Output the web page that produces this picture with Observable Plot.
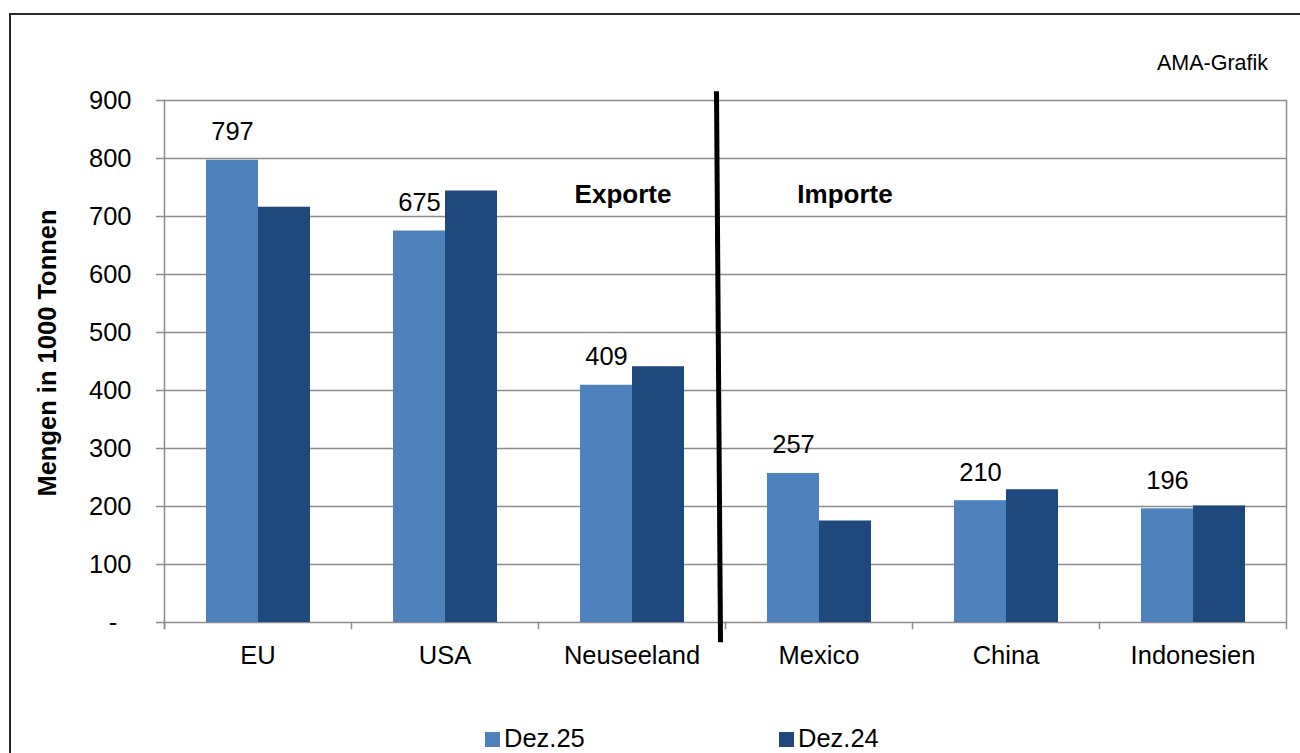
<!DOCTYPE html>
<html><head><meta charset="utf-8">
<script src="https://cdn.jsdelivr.net/npm/d3@7"></script>
<script src="https://cdn.jsdelivr.net/npm/@observablehq/plot@0.6"></script>
<style>
body{margin:0;background:#fff;}
#wrap{position:relative;width:1300px;height:753px;overflow:hidden;font-family:"Liberation Sans",Arial,sans-serif;color:#000;background:#fff;}
#border{position:absolute;left:9px;top:13px;width:1400px;height:800px;border-left:2px solid #2a2a2a;border-top:2px solid #2a2a2a;}
#chart{position:absolute;left:0;top:0;}
#credit{position:absolute;right:32px;top:52.8px;font-size:21.5px;line-height:1;white-space:nowrap;}
#ylabel{position:absolute;left:48px;top:353px;transform:translate(-50%,-50%) rotate(-90deg);font-size:25.5px;font-weight:bold;white-space:nowrap;line-height:1;}
.leg{position:absolute;top:726.4px;font-size:25.5px;line-height:1;white-space:nowrap;}
.sw{position:absolute;top:732px;width:15px;height:15px;}
</style></head><body>
<div id="wrap">
  <div id="border"></div>
  <div id="chart"></div>
  <div id="credit">AMA-Grafik</div>
  <div id="ylabel">Mengen in 1000 Tonnen</div>
</div>
<script>
// ---- data ----
const categories = ["EU", "USA", "Neuseeland", "Mexico", "China", "Indonesien"];
const seriesNames = ["Dez.25", "Dez.24"];
const valuesDez25 = [797, 675, 409, 257, 210, 196];
const valuesDez24 = [716, 744, 441, 175, 229, 201];
const yTicks = [0, 100, 200, 300, 400, 500, 600, 700, 800, 900];
const groupLabels = ["Exporte", "Importe"];
const seriesColors = ["#4F81BD", "#1F497D"];

const rows = [];
categories.forEach((c, i) => {
  rows.push({cat: c, series: seriesNames[0], value: valuesDez25[i]});
  rows.push({cat: c, series: seriesNames[1], value: valuesDez24[i]});
});
const labelRows = rows.filter(d => d.series === seriesNames[0]);

const gray = "#8c8c8c";
const FS = 25.5;
const H = 700, MT = 100, MB = 78;
const plotH = H - MT - MB;

const plot = Plot.plot({
  width: 1300,
  height: H,
  marginLeft: 162,
  marginRight: 13,
  marginTop: MT,
  marginBottom: MB,
  style: {fontFamily: '"Liberation Sans", Arial, sans-serif', fontSize: FS + "px", color: "#000", background: "transparent", overflow: "visible"},
  fx: {domain: categories, padding: 0, axis: null, label: null},
  x: {domain: seriesNames, paddingInner: 0, paddingOuter: 0.77, axis: null, label: null},
  y: {domain: [0, 900], axis: null, label: null},
  color: {domain: seriesNames, range: seriesColors},
  marks: [
    Plot.gridY(yTicks, {stroke: gray, strokeOpacity: 1, strokeWidth: 1.5}),
    // category separator ticks below the axis
    Plot.frame({anchor: "left", stroke: gray, strokeWidth: 1.5, insetTop: plotH, insetBottom: -6}),
    // left axis line and right edge line
    Plot.frame({anchor: "left", facetAnchor: "left", stroke: gray, strokeWidth: 1.5, insetBottom: -6}),
    Plot.frame({anchor: "right", facetAnchor: "right", stroke: gray, strokeWidth: 1.5, insetBottom: -6}),
    Plot.barY(rows, {fx: "cat", x: "series", y: "value", fill: "series"}),
    Plot.text(labelRows, {fx: "cat", x: "series", y: "value", text: d => String(d.value), lineAnchor: "bottom", dy: -20, fontSize: FS, fill: "#000"}),
    Plot.text([{cat: categories[2], label: groupLabels[0]}], {fx: "cat", text: "label", frameAnchor: "top", lineAnchor: "bottom", dy: 102, dx: -9, fontSize: 26, fontWeight: "bold", fill: "#000"}),
    Plot.text([{cat: categories[3], label: groupLabels[1]}], {fx: "cat", text: "label", frameAnchor: "top", lineAnchor: "bottom", dy: 102, dx: 26, fontSize: 26, fontWeight: "bold", fill: "#000"}),
    Plot.axisY(yTicks, {tickSize: 8, tickPadding: 25, stroke: gray, strokeWidth: 1.5, fontSize: FS, fill: "#000", label: null,
      tickFormat: d => d === 0 ? "-\u00a0\u00a0" : String(d)}),
    Plot.axisFx({anchor: "bottom", tickSize: 0, tickPadding: 23, fontSize: FS, fill: "#000", label: null})
  ]
});
document.getElementById("chart").appendChild(plot);

// divider between Exporte and Importe
const fxs = plot.scale("fx");
const ys = plot.scale("y");
let bx = fxs.apply(categories[3]);
if (bx < 400) bx += 162;
d3.select(plot).append("line")
  .attr("x1", bx - 8.5).attr("y1", ys.apply(915))
  .attr("x2", bx - 4.5).attr("y2", ys.apply(-35))
  .attr("stroke", "#000").attr("stroke-width", 5);

// legend
const wrap = document.getElementById("wrap");
const legX = [485, 779];
seriesNames.forEach((s, i) => {
  const sw = document.createElement("div");
  sw.className = "sw"; sw.style.left = legX[i] + "px"; sw.style.background = seriesColors[i];
  wrap.appendChild(sw);
  const t = document.createElement("div");
  t.className = "leg"; t.style.left = (legX[i] + 19) + "px"; t.textContent = s;
  wrap.appendChild(t);
});
</script>
</body></html>
